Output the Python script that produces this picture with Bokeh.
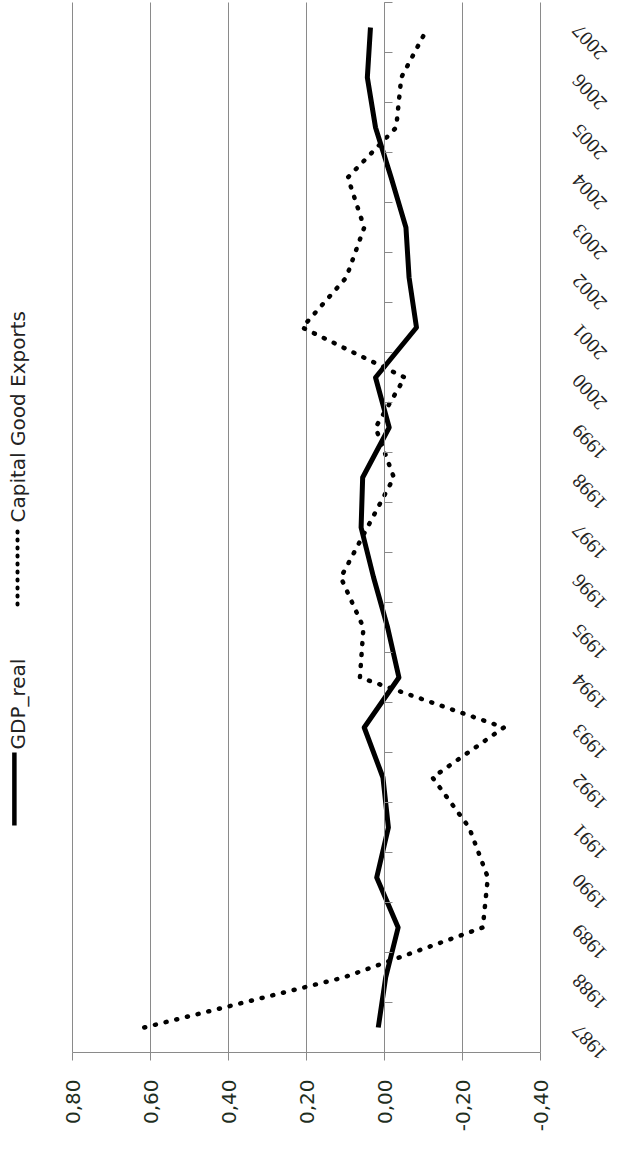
import math
from bokeh.plotting import figure
from bokeh.models import (Range1d, FixedTicker, LinearAxis, ColumnDataSource,
                          LabelSet, Label, Arrow)
from bokeh.embed import file_html
from bokeh.resources import INLINE

# ---- data ----
years = list(range(1987, 2008))
gdp_real = [0.016, -0.003, -0.035, 0.020, -0.010, 0.004, 0.052, -0.037, -0.008, 0.028,
            0.060, 0.056, -0.012, 0.023, -0.082, -0.063, -0.055, -0.017, 0.023, 0.044, 0.036]
capital_good_exports = [0.616, 0.105, -0.252, -0.265, -0.217, -0.123, -0.306, 0.063, 0.054, 0.112,
                        0.044, -0.024, 0.023, -0.052, 0.211, 0.098, 0.052, 0.094, -0.030, -0.043, -0.111]
value_ticks = [0.8, 0.6, 0.4, 0.2, 0.0, -0.2, -0.4]
value_tick_labels = ["0,80", "0,60", "0,40", "0,20", "0,00", "-0,20", "-0,40"]
year_labels = [str(y) for y in years]
series_names = ["GDP_real", "Capital Good Exports"]

FONT = "DejaVu Sans"
GRID = "#8a8a8a"

# whole canvas is the frame: 390 px per value unit, 50 px per year
W, H = 623, 1141
px_per_val, px_per_year = 390.0, 50.0
x_left = 0.8 + 72 / px_per_val
x_right = 0.8 - (W - 72) / px_per_val
y_top = (years[-1] + 0.5) + 2 / px_per_year
y_bottom = (years[-1] + 0.5) - (H - 2) / px_per_year

p = figure(width=W, height=H, output_backend="svg", toolbar_location=None,
           x_range=Range1d(x_left, x_right), y_range=Range1d(y_bottom, y_top),
           x_axis_location=None, y_axis_location=None,
           min_border_left=0, min_border_right=0, min_border_top=0, min_border_bottom=0)
p.outline_line_color = None
p.background_fill_color = "white"
p.border_fill_color = "white"
p.xgrid.grid_line_color = None
p.ygrid.grid_line_color = None

y_lo, y_hi = years[0] - 0.5, years[-1] + 0.5

# vertical gridlines at the value ticks
p.segment(x0=value_ticks, y0=[y_lo] * len(value_ticks), x1=value_ticks,
          y1=[y_hi] * len(value_ticks), line_color=GRID, line_width=1)

# value axis (original y axis) along the bottom of the plot area
val_axis = LinearAxis(fixed_location=y_lo, bounds=(min(value_ticks), max(value_ticks)),
                      ticker=FixedTicker(ticks=value_ticks),
                      major_label_overrides={t: l for t, l in zip(value_ticks, value_tick_labels)},
                      major_label_orientation=math.pi / 2,
                      major_label_text_font=FONT, major_label_text_font_size="20px",
                      major_label_text_color="#1e2e1e", major_label_standoff=19,
                      major_tick_out=8, major_tick_in=0, minor_tick_line_color=None,
                      axis_line_color=GRID, major_tick_line_color=GRID)
p.add_layout(val_axis, "below")

# category axis line at value 0, ticks between categories
cat_axis = LinearAxis(fixed_location=0, bounds=(y_lo, y_hi),
                      ticker=FixedTicker(ticks=[y - 0.5 for y in years] + [y_hi]),
                      major_tick_out=8, major_tick_in=0,
                      axis_line_color=GRID, major_tick_line_color=GRID,
                      minor_tick_line_color=None,
                      major_label_text_font_size="0px")
p.add_layout(cat_axis, "right")

# series
p.line(x=capital_good_exports, y=years, line_color="black", line_width=4.5,
       line_dash="1 10", line_cap="round", line_join="round")
p.line(x=gdp_real, y=years, line_color="black", line_width=5, line_join="round")

# year tick labels (rotated, right of the plot)
ysrc = ColumnDataSource(dict(year=years, label=year_labels))
p.add_layout(LabelSet(x=-0.49, y="year", text="label", source=ysrc,
                      angle=2.32, text_align="right", text_baseline="middle",
                      text_font=FONT, text_font_size="20px", text_color="#222222"))

# legend (rotated)
p.add_layout(Arrow(end=None, x_start=0.949, y_start=1991.04, x_end=0.949, y_end=1992.5,
                   line_color="black", line_width=4.5))
p.add_layout(Label(x=0.941, y=1992.56, text=series_names[0], angle=math.pi / 2,
                   text_align="left", text_baseline="middle",
                   text_font=FONT, text_font_size="20px", text_color="#222222"))
p.add_layout(Arrow(end=None, x_start=0.941, y_start=1995.46, x_end=0.941, y_end=1997.04,
                   line_color="black", line_width=4, line_dash="1 7", line_cap="round"))
p.add_layout(Label(x=0.941, y=1997.1, text=series_names[1], angle=math.pi / 2,
                   text_align="left", text_baseline="middle",
                   text_font=FONT, text_font_size="20px", text_color="#222222"))

open("out.html", "w").write(file_html(p, INLINE))
